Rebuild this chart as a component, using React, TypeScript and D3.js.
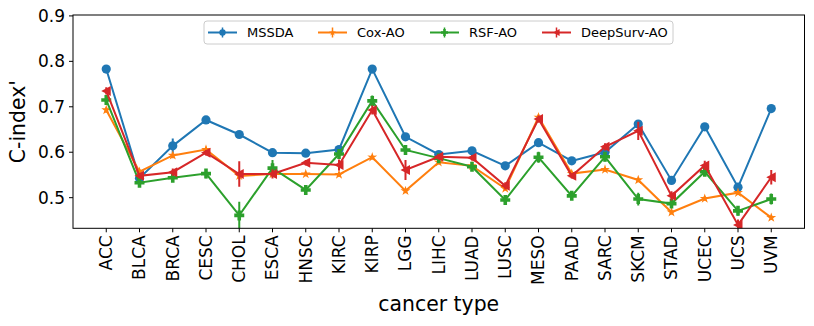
import React from 'react';
import * as d3 from 'd3';

const categories = ['ACC', 'BLCA', 'BRCA', 'CESC', 'CHOL', 'ESCA', 'HNSC', 'KIRC', 'KIRP', 'LGG', 'LIHC',
  'LUAD', 'LUSC', 'MESO', 'PAAD', 'SARC', 'SKCM', 'STAD', 'UCEC', 'UCS', 'UVM'];

const mssda = [0.783, 0.543, 0.614, 0.671, 0.639, 0.599, 0.598, 0.606, 0.783, 0.634, 0.595,
  0.603, 0.570, 0.621, 0.581, 0.600, 0.662, 0.538, 0.656, 0.523, 0.696];
const mssdaErr = [0.004, 0.004, 0.016, 0.004, 0.004, 0.003, 0.003, 0.004, 0.004, 0.004, 0.003,
  0.003, 0.003, 0.004, 0.004, 0.004, 0.004, 0.004, 0.004, 0.004, 0.004];

const coxAO = [0.693, 0.557, 0.593, 0.606, 0.548, 0.552, 0.552, 0.551, 0.589, 0.515, 0.578,
  0.570, 0.520, 0.677, 0.553, 0.562, 0.539, 0.468, 0.498, 0.511, 0.456];
const coxErr = [0.006, 0.006, 0.006, 0.006, 0.008, 0.005, 0.005, 0.005, 0.005, 0.005, 0.005,
  0.005, 0.005, 0.006, 0.005, 0.005, 0.005, 0.005, 0.005, 0.005, 0.005];

const rsfAO = [0.715, 0.533, 0.544, 0.553, 0.461, 0.565, 0.517, 0.596, 0.713, 0.605, 0.587,
  0.568, 0.495, 0.589, 0.504, 0.590, 0.497, 0.487, 0.557, 0.471, 0.497];
const rsfErr = [0.008, 0.006, 0.008, 0.01, 0.03, 0.018, 0.008, 0.008, 0.012, 0.006, 0.006,
  0.006, 0.008, 0.012, 0.008, 0.01, 0.014, 0.008, 0.008, 0.01, 0.012];

const deepSurvAO = [0.735, 0.548, 0.556, 0.599, 0.552, 0.552, 0.577, 0.572, 0.693, 0.561, 0.590,
  0.588, 0.526, 0.673, 0.548, 0.612, 0.647, 0.504, 0.571, 0.440, 0.545];
const deepSurvErr = [0.008, 0.006, 0.008, 0.006, 0.028, 0.01, 0.006, 0.012, 0.01, 0.022, 0.006,
  0.006, 0.008, 0.008, 0.006, 0.008, 0.02, 0.01, 0.01, 0.012, 0.016];

const yTicks = [0.5, 0.6, 0.7, 0.8, 0.9];

const W = 814;
const H = 326;
const plot = { left: 73, right: 804.5, top: 15, bottom: 228.3 };

const x = d3.scaleLinear().domain([-1, 21]).range([plot.left, plot.right]);
const y = d3.scaleLinear().domain([0.4326, 0.902]).range([plot.bottom, plot.top]);

// marker paths centred on 0,0
const circlePath = (r: number) => d3.symbol(d3.symbolCircle, Math.PI * r * r)() as string;
const starPath = (r: number) => {
  const pts: string[] = [];
  for (let i = 0; i < 10; i++) {
    const a = -Math.PI / 2 + (i * Math.PI) / 5;
    const rr = i % 2 === 0 ? r : r * 0.38;
    pts.push(`${rr * Math.cos(a)},${rr * Math.sin(a)}`);
  }
  return 'M' + pts.join('L') + 'Z';
};
const plusPath = (r: number) => {
  const t = r * 0.36;
  return `M${-t},${-r}H${t}V${-t}H${r}V${t}H${t}V${r}H${-t}V${t}H${-r}V${-t}H${-t}Z`;
};
const triLeftPath = (r: number) => `M${-r},0L${r * 0.9},${-r}L${r * 0.9},${r}Z`;

const series = [
  { name: 'MSSDA', values: mssda, err: mssdaErr, color: '#1f77b4', marker: circlePath(4.6) },
  { name: 'Cox-AO', values: coxAO, err: coxErr, color: '#ff7f0e', marker: starPath(5.2) },
  { name: 'RSF-AO', values: rsfAO, err: rsfErr, color: '#2ca02c', marker: plusPath(5) },
  { name: 'DeepSurv-AO', values: deepSurvAO, err: deepSurvErr, color: '#d62728', marker: triLeftPath(5) },
];

const legendX = [208, 318, 430, 542];

const font = 'DejaVu Sans, sans-serif';

export default function App() {
  const line = d3.line<number>().x((_, i) => x(i)).y((d) => y(d));

  return (
    <svg width={W} height={H} style={{ position: 'absolute', left: 0, top: 0, background: '#fff' }}
      fontFamily={font}>
      <defs>
        <clipPath id="plotClip">
          <rect x={plot.left} y={plot.top} width={plot.right - plot.left} height={plot.bottom - plot.top} />
        </clipPath>
      </defs>

      {/* series */}
      <g clipPath="url(#plotClip)">
        {series.map((s) => (
          <g key={s.name}>
            <path d={line(s.values) as string} fill="none" stroke={s.color} strokeWidth={2} />
            {s.values.map((v, i) => (
              <line key={'e' + i} x1={x(i)} x2={x(i)} y1={y(v - s.err[i])} y2={y(v + s.err[i])}
                stroke={s.color} strokeWidth={2} />
            ))}
            {s.values.map((v, i) => (
              <path key={'m' + i} d={s.marker} transform={`translate(${x(i)},${y(v)})`} fill={s.color} />
            ))}
          </g>
        ))}
      </g>

      {/* frame */}
      <rect x={plot.left} y={plot.top} width={plot.right - plot.left} height={plot.bottom - plot.top}
        fill="none" stroke="#000" strokeWidth={1} />

      {/* y axis */}
      {yTicks.map((t) => (
        <g key={t}>
          <line x1={plot.left - 4} x2={plot.left} y1={y(t)} y2={y(t)} stroke="#000" />
          <text x={plot.left - 8} y={y(t)} dy="0.35em" textAnchor="end" fontSize={17}>{t.toFixed(1)}</text>
        </g>
      ))}
      <text transform={`translate(25,${(plot.top + plot.bottom) / 2}) rotate(-90)`} textAnchor="middle"
        fontSize={20.4}>C-index'</text>

      {/* x axis */}
      {categories.map((c, i) => (
        <g key={c}>
          <line x1={x(i)} x2={x(i)} y1={plot.bottom} y2={plot.bottom + 4} stroke="#000" />
          <text transform={`translate(${x(i)},${plot.bottom + 7}) rotate(-90)`} textAnchor="end" dy="0.35em"
            fontSize={17}>{c}</text>
        </g>
      ))}
      <text x={(plot.left + plot.right) / 2} y={311} textAnchor="middle" fontSize={20.4}>cancer type</text>

      {/* legend */}
      <rect x={204} y={21} width={469} height={23} rx={3} fill="#fff" fillOpacity={0.8} stroke="#ccc" />
      {series.map((s, k) => {
        const lx = legendX[k];
        const cy = 32.5;
        return (
          <g key={s.name}>
            <line x1={lx} x2={lx + 29} y1={cy} y2={cy} stroke={s.color} strokeWidth={2} />
            <line x1={lx + 14.5} x2={lx + 14.5} y1={cy - 5} y2={cy + 5} stroke={s.color} strokeWidth={1.5} />
            <path d={s.marker} transform={`translate(${lx + 14.5},${cy}) scale(0.7)`} fill={s.color} />
            <text x={lx + 39} y={cy} dy="0.35em" fontSize={13}>{s.name}</text>
          </g>
        );
      })}
    </svg>
  );
}
